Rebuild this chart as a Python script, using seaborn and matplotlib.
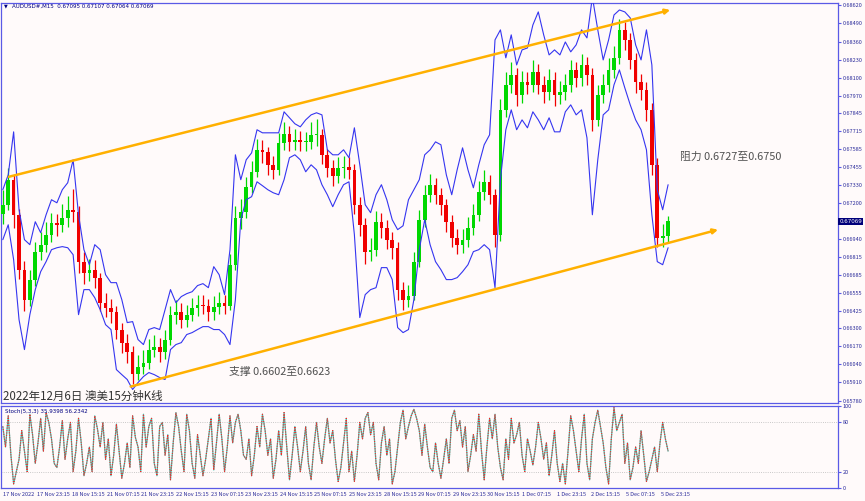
import numpy as np
import pandas as pd
import matplotlib.pyplot as plt
import seaborn as sns
from matplotlib.transforms import blended_transform_factory

closes = [0.67187, 0.67367, 0.67115, 0.66720, 0.66505, 0.66649, 0.66850, 0.66900, 0.66972, 0.67058,
          0.67044, 0.67094, 0.67151, 0.67137, 0.66778, 0.66699, 0.66720, 0.66663, 0.66484, 0.66448,
          0.66419, 0.66290, 0.66196, 0.66132, 0.65967, 0.66024, 0.66053, 0.66146, 0.66168, 0.66132,
          0.66218, 0.66397, 0.66419, 0.66361, 0.66397, 0.66448, 0.66469, 0.66462, 0.66419, 0.66455,
          0.66484, 0.66462, 0.66756, 0.67094, 0.67137, 0.67316, 0.67424, 0.67582, 0.67568, 0.67474,
          0.67438, 0.67632, 0.67697, 0.67639, 0.67654, 0.67639, 0.67639, 0.67690, 0.67690, 0.67546,
          0.67453, 0.67395, 0.67453, 0.67460, 0.67438, 0.67187, 0.67044, 0.66850, 0.66864, 0.67065,
          0.67022, 0.66936, 0.66878, 0.66577, 0.66505, 0.66534, 0.66778, 0.67079, 0.67259, 0.67331,
          0.67259, 0.67187, 0.67065, 0.66950, 0.66900, 0.66936, 0.67022, 0.67115, 0.67280, 0.67352,
          0.67259, 0.66972, 0.67869, 0.68049, 0.68121, 0.67977, 0.68070, 0.68049, 0.68142, 0.68049,
          0.67998, 0.68085, 0.67977, 0.67998, 0.68049, 0.68156, 0.68099, 0.68192, 0.68121, 0.67797,
          0.67977, 0.68049, 0.68156, 0.68243, 0.68444, 0.68372, 0.68228, 0.68070, 0.68013, 0.67869,
          0.67474, 0.66950, 0.66965, 0.67069]
first_open = 0.67120

highs = [0.67290, 0.67450, 0.67400, 0.67160, 0.66780, 0.66720, 0.66920, 0.66990, 0.67060, 0.67130,
         0.67120, 0.67190, 0.67250, 0.67300, 0.67180, 0.66850, 0.66800, 0.66790, 0.66700, 0.66550,
         0.66510, 0.66460, 0.66340, 0.66260, 0.66170, 0.66110, 0.66140, 0.66220, 0.66250, 0.66230,
         0.66290, 0.66460, 0.66500, 0.66480, 0.66470, 0.66520, 0.66540, 0.66540, 0.66510, 0.66530,
         0.66560, 0.66540, 0.66830, 0.67180, 0.67230, 0.67390, 0.67500, 0.67660, 0.67650, 0.67600,
         0.67540, 0.67700, 0.67780, 0.67750, 0.67730, 0.67720, 0.67710, 0.67780, 0.67800, 0.67730,
         0.67590, 0.67510, 0.67530, 0.67540, 0.67530, 0.67480, 0.67240, 0.67090, 0.66950, 0.67140,
         0.67130, 0.67080, 0.66990, 0.66920, 0.66630, 0.66610, 0.66850, 0.67150, 0.67330, 0.67410,
         0.67380, 0.67310, 0.67230, 0.67110, 0.67010, 0.67010, 0.67100, 0.67190, 0.67360, 0.67440,
         0.67400, 0.67300, 0.67950, 0.68140, 0.68210, 0.68170, 0.68150, 0.68140, 0.68230, 0.68200,
         0.68110, 0.68160, 0.68140, 0.68080, 0.68130, 0.68230, 0.68210, 0.68270, 0.68250, 0.68170,
         0.68050, 0.68130, 0.68240, 0.68330, 0.68520, 0.68500, 0.68420, 0.68280, 0.68130, 0.68070,
         0.67920, 0.67520, 0.67050, 0.67107]

lows = [0.67050, 0.67150, 0.67020, 0.66650, 0.66420, 0.66460, 0.66600, 0.66790, 0.66850, 0.66920,
        0.66960, 0.66990, 0.67030, 0.67060, 0.66700, 0.66620, 0.66640, 0.66590, 0.66420, 0.66380,
        0.66340, 0.66220, 0.66120, 0.66050, 0.65900, 0.65930, 0.65970, 0.66010, 0.66090, 0.66060,
        0.66080, 0.66180, 0.66330, 0.66300, 0.66310, 0.66350, 0.66390, 0.66400, 0.66350, 0.66360,
        0.66400, 0.66400, 0.66430, 0.66720, 0.67010, 0.67090, 0.67270, 0.67390, 0.67490, 0.67400,
        0.67370, 0.67400, 0.67580, 0.67570, 0.67580, 0.67570, 0.67570, 0.67590, 0.67610, 0.67480,
        0.67390, 0.67320, 0.67340, 0.67380, 0.67370, 0.67120, 0.66960, 0.66760, 0.66780, 0.66820,
        0.66950, 0.66870, 0.66800, 0.66500, 0.66430, 0.66450, 0.66500, 0.66740, 0.67030, 0.67210,
        0.67190, 0.67110, 0.66990, 0.66880, 0.66830, 0.66840, 0.66880, 0.66970, 0.67070, 0.67220,
        0.67190, 0.66880, 0.66930, 0.67820, 0.67990, 0.67900, 0.67920, 0.67980, 0.68000, 0.67980,
        0.67920, 0.67940, 0.67900, 0.67910, 0.67940, 0.68000, 0.68030, 0.68040, 0.68050, 0.67720,
        0.67750, 0.67920, 0.68000, 0.68100, 0.68200, 0.68300, 0.68160, 0.67990, 0.67940, 0.67790,
        0.67400, 0.66880, 0.66880, 0.66910]

upper_band = [0.67295, 0.67402, 0.67711, 0.67151, 0.66936, 0.66900, 0.67065, 0.66986, 0.67115, 0.67223,
              0.67201, 0.67295, 0.67345, 0.67510, 0.67115, 0.66864, 0.66756, 0.66900, 0.66864, 0.66684,
              0.66627, 0.66627, 0.66505, 0.66340, 0.66347, 0.66218, 0.66182, 0.66290, 0.66304, 0.66290,
              0.66433, 0.66577, 0.66483, 0.66527, 0.66548, 0.66562, 0.66606, 0.66620, 0.66591, 0.66742,
              0.66684, 0.66541, 0.66864, 0.67546, 0.67367, 0.67510, 0.67560, 0.67726, 0.67704, 0.67704,
              0.67704, 0.67704, 0.67855, 0.67812, 0.67769, 0.67747, 0.67797, 0.67833, 0.67848, 0.67833,
              0.67582, 0.67546, 0.67546, 0.67582, 0.67525, 0.67740, 0.67474, 0.67187, 0.67130, 0.67259,
              0.67331, 0.67223, 0.67079, 0.67008, 0.67036, 0.67223, 0.67295, 0.67367, 0.67546, 0.67582,
              0.67639, 0.67618, 0.67402, 0.67259, 0.67438, 0.67596, 0.67438, 0.67309, 0.67474, 0.67618,
              0.67690, 0.68372, 0.68444, 0.68243, 0.68408, 0.68192, 0.68300, 0.68314, 0.68479, 0.68573,
              0.68408, 0.68264, 0.68300, 0.68264, 0.68357, 0.68286, 0.68336, 0.68444, 0.68386, 0.68680,
              0.68444, 0.68228, 0.68372, 0.68551, 0.68587, 0.68573, 0.68530, 0.68336, 0.68228, 0.68444,
              0.68192, 0.67295, 0.67151, 0.67331]

lower_band = [0.66936, 0.67043, 0.66792, 0.66361, 0.66146, 0.66397, 0.66577, 0.66706, 0.66778, 0.66864,
              0.66878, 0.66886, 0.66878, 0.66828, 0.66397, 0.66577, 0.66577, 0.66519, 0.66433, 0.66325,
              0.66290, 0.66002, 0.65966, 0.65931, 0.65859, 0.65909, 0.65952, 0.65981, 0.65966, 0.65945,
              0.65931, 0.66146, 0.66182, 0.66196, 0.66254, 0.66268, 0.66290, 0.66311, 0.66311, 0.66290,
              0.66290, 0.66254, 0.66182, 0.66505, 0.67079, 0.67223, 0.67245, 0.67352, 0.67324, 0.67295,
              0.67273, 0.67259, 0.67367, 0.67525, 0.67546, 0.67510, 0.67424, 0.67474, 0.67438, 0.67331,
              0.67259, 0.67173, 0.67259, 0.67331, 0.67352, 0.66972, 0.66376, 0.66541, 0.66577, 0.66591,
              0.66735, 0.66735, 0.66649, 0.66304, 0.66268, 0.66290, 0.66505, 0.66864, 0.67079, 0.66900,
              0.66778, 0.66720, 0.66649, 0.66649, 0.66663, 0.66706, 0.66756, 0.66850, 0.66864, 0.66900,
              0.66864, 0.66591, 0.67367, 0.67726, 0.67869, 0.67726, 0.67797, 0.67740, 0.67855, 0.67797,
              0.67726, 0.67812, 0.67711, 0.67711, 0.67855, 0.67905, 0.67833, 0.67869, 0.67668, 0.67115,
              0.67510, 0.67833, 0.67869, 0.68049, 0.68156, 0.68027, 0.67905, 0.67797, 0.67726, 0.67582,
              0.67115, 0.66778, 0.66756, 0.66878]

# Stoch(5,3,3) main line, every 1.25 trading hours
stoch_k = [75, 50, 88, 40, 5, 20, 35, 70, 45, 20, 90, 65, 30, 55, 85, 45, 92, 80, 60, 30,
           25, 50, 82, 35, 60, 80, 20, 45, 85, 55, 15, 30, 50, 20, 88, 72, 50, 80, 35, 60,
           15, 40, 78, 45, 12, 30, 55, 25, 88, 62, 50, 20, 90, 50, 75, 85, 30, 15, 75, 80,
           40, 65, 10, 55, 92, 75, 45, 20, 90, 70, 30, 12, 65, 40, 15, 35, 60, 85, 22, 55,
           90, 60, 20, 50, 88, 55, 80, 90, 70, 40, 35, 60, 15, 40, 75, 50, 90, 70, 40, 60,
           12, 35, 70, 40, 92, 50, 10, 40, 75, 50, 20, 45, 75, 30, 10, 50, 80, 50, 30, 60,
           85, 55, 70, 35, 8, 25, 55, 85, 20, 45, 8, 40, 80, 60, 85, 92, 65, 80, 30, 10,
           55, 75, 40, 60, 5, 20, 50, 80, 95, 60, 75, 88, 96, 85, 70, 40, 78, 50, 25, 20,
           55, 30, 12, 35, 60, 30, 85, 95, 70, 82, 50, 75, 20, 40, 65, 45, 90, 45, 10, 50,
           85, 60, 90, 50, 25, 10, 60, 35, 85, 55, 65, 80, 40, 20, 60, 45, 28, 50, 80, 60,
           35, 55, 15, 40, 70, 30, 8, 30, 5, 45, 88, 70, 45, 20, 60, 90, 30, 10, 60, 80,
           95, 75, 55, 25, 5, 60, 98, 70, 80, 90, 30, 55, 10, 25, 50, 30, 70, 40, 8, 20,
           35, 50, 20, 55, 80, 60, 45]

# channel lines (trading hour, price)
upper_channel_h = [2.8, 308.5]
upper_channel_p = [0.67388, 0.68587]
lower_channel_h = [59.1, 330.6]
lower_channel_p = [0.65880, 0.67008]

price_labels = ['0.68620', '0.68490', '0.68360', '0.68230', '0.68100', '0.67970', '0.67845',
                '0.67715', '0.67585', '0.67455', '0.67330', '0.67200', '0.66940', '0.66815',
                '0.66685', '0.66555', '0.66425', '0.66300', '0.66170', '0.66040', '0.65910', '0.65780']
last_price = '0.67069'
time_labels = ['17 Nov 2022', '17 Nov 23:15', '18 Nov 15:15', '21 Nov 07:15', '21 Nov 23:15',
               '22 Nov 15:15', '23 Nov 07:15', '23 Nov 23:15', '24 Nov 15:15', '25 Nov 07:15',
               '25 Nov 23:15', '28 Nov 15:15', '29 Nov 07:15', '29 Nov 23:15', '30 Nov 15:15',
               '1 Dec 07:15', '1 Dec 23:15', '2 Dec 15:15', '5 Dec 07:15', '5 Dec 23:15']

sns.set_style('white')
plt.rcParams['font.family'] = ['Noto Sans CJK SC', 'DejaVu Sans']

bg = '#fffafa'
frame = '#5a5ae6'
label_col = '#2a2a9a'

df = pd.DataFrame({'h': np.arange(len(closes)) * 2.5, 'close': closes, 'high': highs, 'low': lows,
                   'upper': upper_band, 'lower': lower_band})
df['open'] = df['close'].shift(1).fillna(first_open)
df['up'] = df['close'] >= df['open']
df['col'] = np.where(df['up'], '#00d800', '#f00000')

st = pd.DataFrame({'h': np.arange(len(stoch_k)) * 1.25, 'k': stoch_k})

fig = plt.figure(figsize=(8.65, 5.01), dpi=100, facecolor=bg)
ax = fig.add_axes([0.001, 0.1956, 0.9677, 0.7984], facecolor=bg)
ax2 = fig.add_axes([0.001, 0.0259, 0.9677, 0.1637], facecolor=bg, sharex=ax)

# candles: wicks + bodies
ax.vlines(df['h'], df['low'], df['high'], colors=df['col'], linewidth=0.9, zorder=3)
body = (df['close'] - df['open']).abs().clip(lower=0.00004)
ax.bar(df['h'], body, bottom=df[['open', 'close']].min(axis=1), width=1.7,
       color=df['col'], linewidth=0, zorder=3)

# envelope bands
sns.lineplot(data=df, x='h', y='upper', ax=ax, color='#3535f0', linewidth=0.8, zorder=4)
sns.lineplot(data=df, x='h', y='lower', ax=ax, color='#3535f0', linewidth=0.8, zorder=4)

# channel arrows
for hs, ps in [(upper_channel_h, upper_channel_p), (lower_channel_h, lower_channel_p)]:
    ax.annotate('', xy=(hs[1], ps[1]), xytext=(hs[0], ps[0]),
                arrowprops=dict(arrowstyle='-|>', color='#ffb000', lw=1.8, mutation_scale=7,
                                shrinkA=0, shrinkB=0), zorder=5)

ax.set_xlim(-0.9, 386)
ax.set_ylim(0.65762, 0.68637)
ax.yaxis.tick_right()
ax.set_yticks([float(s) for s in price_labels])
ax.set_yticklabels(price_labels)
ax.tick_params(axis='y', length=2, pad=1.5, labelsize=4, colors=label_col, color=frame)
ax.tick_params(axis='x', bottom=False, labelbottom=False)
ax.set_xlabel('')
ax.set_ylabel('')
for s in ax.spines.values():
    s.set_color(frame)
    s.set_linewidth(0.9)

tr = blended_transform_factory(ax.transAxes, ax.transData)
ax.text(1.002, float(last_price), last_price, transform=tr, va='center', ha='left', fontsize=4,
        color='white', family='DejaVu Sans',
        bbox=dict(boxstyle='square,pad=0.2', fc='#00007a', ec='none'), clip_on=False)

ax.text(0.0035, 0.9925, '\u25bc', transform=ax.transAxes, fontsize=3.5, color='#000080',
        va='center', ha='left', family='DejaVu Sans')
ax.text(0.0135, 0.9925, 'AUDUSD#,M15  0.67095 0.67107 0.67064 0.67069', transform=ax.transAxes,
        fontsize=4, color='#000080', va='center', ha='left', family='DejaVu Sans')
ax.text(0.811, 0.615, '阻力 0.6727至0.6750', transform=ax.transAxes, fontsize=7.8,
        color='#505050', va='center', ha='left')
ax.text(0.2724, 0.0775, '支撑 0.6602至0.6623', transform=ax.transAxes, fontsize=7.8,
        color='#505050', va='center', ha='left')
ax.text(0.0024, 0.0175, '2022年12月6日 澳美15分钟K线', transform=ax.transAxes, fontsize=8.3,
        color='#333333', va='center', ha='left')

# stochastic panel
ax2.axhline(80, color='#b8b8b8', ls=':', lw=0.6)
ax2.axhline(20, color='#b8b8b8', ls=':', lw=0.6)
sns.lineplot(data=st, x='h', y='k', ax=ax2, color='#3cc8b8', linewidth=0.9)
ax2.plot(st['h'], st['k'], color='#ff2020', ls=(0, (1, 1.2)), lw=0.8)
ax2.set_ylim(0, 100)
ax2.yaxis.tick_right()
ax2.set_yticks([100, 80, 20, 0])
ax2.set_yticklabels(['100', '80', '20', '0'])
ax2.tick_params(axis='y', length=2, pad=1.5, labelsize=4, colors=label_col, color=frame)
ax2.set_xticks([16 * i for i in range(len(time_labels))])
ax2.set_xticklabels(time_labels, ha='left')
ax2.tick_params(axis='x', length=2, pad=1, labelsize=4, colors=label_col, color=frame)
ax2.set_xlabel('')
ax2.set_ylabel('')
for s in ax2.spines.values():
    s.set_color(frame)
    s.set_linewidth(0.9)
ax2.text(0.005, 0.93, 'Stoch(5,3,3) 35.9398 56.2342', transform=ax2.transAxes, fontsize=4,
         color='#000080', va='center', ha='left', family='DejaVu Sans')

fig.savefig('out.png', dpi=100, facecolor=bg)
